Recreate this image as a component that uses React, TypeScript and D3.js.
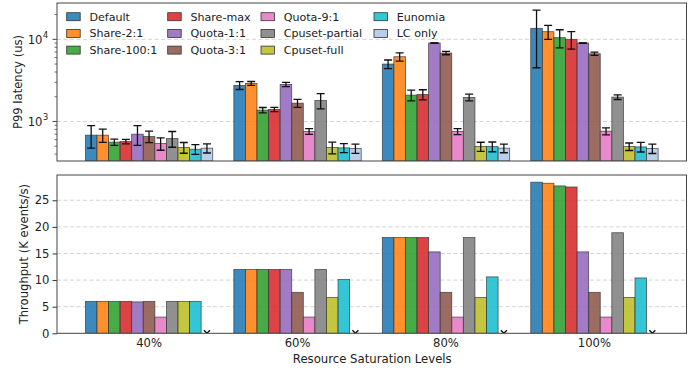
import React, { useEffect, useRef } from 'react'
import * as d3 from 'd3'

const levels = ['40%', '60%', '80%', '100%']
const series = ['Default', 'Share-2:1', 'Share-100:1', 'Share-max', 'Quota-1:1', 'Quota-3:1',
  'Quota-9:1', 'Cpuset-partial', 'Cpuset-full', 'Eunomia', 'LC only']
const colors = ['#1f77b4', '#ff7f0e', '#2ca02c', '#d62728', '#9467bd', '#8c564b',
  '#e377c2', '#7f7f7f', '#bcbd22', '#17becf', '#aec7e8']

// p99 latency (us), one row per series, one value per level
const latency = [
  [681, 2750, 5000, 13610],
  [681, 2905, 6140, 12390],
  [560, 1374, 2094, 10480],
  [570, 1400, 2133, 10000],
  [700, 2825, 9020, 9020],
  [656, 1671, 6810, 6670],
  [539, 756, 756, 762],
  [620, 1803, 1962, 1980],
  [482, 482, 495, 495],
  [459, 477, 495, 490],
  [473, 469, 473, 469],
]
const latencyErr = [
  [208, 300, 600, 9100],
  [125, 160, 710, 2400],
  [48, 105, 310, 2600],
  [36, 85, 300, 2400],
  [190, 175, 60, 60],
  [105, 185, 320, 300],
  [93, 60, 64, 75],
  [135, 380, 185, 130],
  [72, 78, 63, 52],
  [62, 60, 67, 65],
  [60, 60, 57, 62],
]
// throughput (K events/s); LC only has none
const throughput = [
  [6.0, 12.0, 18.0, 28.4],
  [6.0, 12.0, 18.0, 28.2],
  [6.0, 12.0, 18.0, 27.7],
  [6.0, 12.0, 18.0, 27.5],
  [5.9, 12.0, 15.3, 15.3],
  [6.0, 7.7, 7.7, 7.7],
  [3.05, 3.05, 3.05, 3.05],
  [6.0, 12.0, 18.0, 18.9],
  [6.0, 6.75, 6.75, 6.75],
  [6.0, 10.1, 10.6, 10.4],
  [null, null, null, null],
]
const latTicks = [1000, 10000]
const tpTicks = [0, 5, 10, 15, 20, 25]

const W = 696
const H = 370
const FONT = 'DejaVu Sans, sans-serif'

const App = () => {
  const svgRef = useRef<SVGSVGElement>(null)

  useEffect(() => {
    const svg = d3.select(svgRef.current)
    svg.selectAll('*').remove()

    const left = 57, right = 686.5
    const top1 = 3, bot1 = 161
    const top2 = 175, bot2 = 333.3
    const barW = 0.078

    const x = d3.scaleLinear().domain([-0.62, 3.62]).range([left, right])
    const yLat = d3.scaleLog().domain([330, 27700]).range([bot1, top1])
    const yTp = d3.scaleLinear().domain([0, 29.75]).range([bot2, top2])

    const barX = (g: number, s: number) => x(g + (s - 5.5) * barW)
    const bw = x(barW) - x(0)

    const defs = svg.append('defs')
    defs.append('clipPath').attr('id', 'clip1').append('rect')
      .attr('x', left).attr('y', top1).attr('width', right - left).attr('height', bot1 - top1)
    defs.append('clipPath').attr('id', 'clip2').append('rect')
      .attr('x', left).attr('y', top2).attr('width', right - left).attr('height', bot2 - top2)

    // ---- top panel: latency
    const p1 = svg.append('g')
    p1.selectAll('.grid').data(latTicks).join('line')
      .attr('x1', left).attr('x2', right)
      .attr('y1', d => yLat(d)).attr('y2', d => yLat(d))
      .attr('stroke', '#c8c8c8').attr('stroke-width', 0.8).attr('stroke-dasharray', '4,2.5')

    const bars1 = p1.append('g').attr('clip-path', 'url(#clip1)')
    series.forEach((name, s) => {
      const g = bars1.append('g')
      g.selectAll('rect').data(latency[s]).join('rect')
        .attr('x', (d, i) => barX(i, s))
        .attr('width', bw)
        .attr('y', d => yLat(d))
        .attr('height', d => bot1 - yLat(d))
        .attr('fill', colors[s]).attr('fill-opacity', 0.87)
        .attr('stroke', '#333').attr('stroke-opacity', 0.8).attr('stroke-width', 0.8)
    })
    series.forEach((name, s) => {
      const g = bars1.append('g')
      latency[s].forEach((v, i) => {
        const cx = barX(i, s) + bw / 2
        const e = latencyErr[s][i]
        const yHi = yLat(v + e), yLo = yLat(Math.max(v - e, 1))
        g.append('line').attr('x1', cx).attr('x2', cx).attr('y1', yHi).attr('y2', yLo)
          .attr('stroke', '#111').attr('stroke-width', 1.3)
        ;[yHi, yLo].forEach(yy => g.append('line')
          .attr('x1', cx - 4).attr('x2', cx + 4).attr('y1', yy).attr('y2', yy)
          .attr('stroke', '#111').attr('stroke-width', 1.3))
      })
    })

    // log axis ticks
    const minor: number[] = []
    ;[100, 1000, 10000].forEach(dec => {
      for (let k = 2; k <= 9; k++) {
        const v = dec * k
        if (v >= 330 && v <= 27700) minor.push(v)
      }
    })
    p1.selectAll('.minor').data(minor).join('line')
      .attr('x1', left - 2.5).attr('x2', left)
      .attr('y1', d => yLat(d)).attr('y2', d => yLat(d))
      .attr('stroke', '#333').attr('stroke-width', 0.7)
    p1.selectAll('.major').data(latTicks).join('line')
      .attr('x1', left - 4.5).attr('x2', left)
      .attr('y1', d => yLat(d)).attr('y2', d => yLat(d))
      .attr('stroke', '#333').attr('stroke-width', 0.9)
    latTicks.forEach(t => {
      p1.append('text')
        .attr('x', 42.5).attr('y', yLat(t) + 4.5)
        .attr('text-anchor', 'end')
        .attr('font-family', FONT).attr('font-size', 11.6).attr('fill', '#222')
        .text('10')
      p1.append('text')
        .attr('x', 43).attr('y', yLat(t) - 1.5)
        .attr('font-family', FONT).attr('font-size', 8.2).attr('fill', '#222')
        .text(String(Math.round(Math.log10(t))))
    })
    p1.append('rect').attr('x', left).attr('y', top1)
      .attr('width', right - left).attr('height', bot1 - top1)
      .attr('fill', 'none').attr('stroke', '#444').attr('stroke-width', 1)
    p1.append('text')
      .attr('transform', `translate(21.5,${(top1 + bot1) / 2}) rotate(-90)`)
      .attr('text-anchor', 'middle')
      .attr('font-family', FONT).attr('font-size', 11.6).attr('fill', '#222')
      .text('P99 latency (us)')

    // legend (no frame)
    const lg = svg.append('g')
    const colX = [66.7, 167.7, 261, 374]
    series.forEach((name, s) => {
      const c = Math.floor(s / 3), r = s % 3
      const cy = 16.7 + r * 16.7
      lg.append('rect').attr('x', colX[c]).attr('y', cy - 4)
        .attr('width', 13.5).attr('height', 8)
        .attr('fill', colors[s]).attr('fill-opacity', 0.87)
        .attr('stroke', '#333').attr('stroke-width', 0.8)
      lg.append('text').attr('x', colX[c] + 22.7).attr('y', cy + 4)
        .attr('font-family', FONT).attr('font-size', 11.1).attr('fill', '#222')
        .text(name)
    })

    // ---- bottom panel: throughput
    const p2 = svg.append('g')
    p2.selectAll('.grid').data(tpTicks.filter(t => t > 0)).join('line')
      .attr('x1', left).attr('x2', right)
      .attr('y1', d => yTp(d)).attr('y2', d => yTp(d))
      .attr('stroke', '#c8c8c8').attr('stroke-width', 0.8).attr('stroke-dasharray', '4,2.5')
    const bars2 = p2.append('g').attr('clip-path', 'url(#clip2)')
    series.forEach((name, s) => {
      throughput[s].forEach((v, i) => {
        if (v === null) {
          const cx = barX(i, s) + bw / 2, cy = yTp(0)
          bars2.append('path')
            .attr('d', `M${cx - 3},${cy - 3}L${cx + 3},${cy + 3}M${cx - 3},${cy + 3}L${cx + 3},${cy - 3}`)
            .attr('stroke', '#111').attr('stroke-width', 1.4)
          return
        }
        bars2.append('rect')
          .attr('x', barX(i, s)).attr('width', bw)
          .attr('y', yTp(v)).attr('height', bot2 - yTp(v))
          .attr('fill', colors[s]).attr('fill-opacity', 0.87)
          .attr('stroke', '#333').attr('stroke-opacity', 0.8).attr('stroke-width', 0.8)
      })
    })
    const yAxis = d3.axisLeft(yTp).tickValues(tpTicks).tickSize(4.5).tickPadding(3)
    const ga = p2.append('g').attr('transform', `translate(${left},0)`).call(yAxis)
    ga.select('.domain').remove()
    ga.selectAll('line').attr('stroke', '#333')
    ga.selectAll('text').attr('font-family', FONT).attr('font-size', 11.6).attr('fill', '#222')
    p2.append('rect').attr('x', left).attr('y', top2)
      .attr('width', right - left).attr('height', bot2 - top2)
      .attr('fill', 'none').attr('stroke', '#444').attr('stroke-width', 1)
    p2.selectAll('.xl').data(levels).join('text')
      .attr('x', (d, i) => x(i)).attr('y', 346.5)
      .attr('text-anchor', 'middle')
      .attr('font-family', FONT).attr('font-size', 11.6).attr('fill', '#222')
      .text(d => d)
    p2.append('text')
      .attr('x', (left + right) / 2 + 0.5).attr('y', 362.5)
      .attr('text-anchor', 'middle')
      .attr('font-family', FONT).attr('font-size', 11.7).attr('fill', '#222')
      .text('Resource Saturation Levels')
    p2.append('text')
      .attr('transform', `translate(27.5,${(top2 + bot2) / 2}) rotate(-90)`)
      .attr('text-anchor', 'middle')
      .attr('font-family', FONT).attr('font-size', 11.6).attr('fill', '#222')
      .text('Throughput (K events/s)')
  }, [])

  return (
    <svg ref={svgRef} width={W} height={H}
      style={{ position: 'absolute', left: 0, top: 0, background: '#fff' }} />
  )
}

export default App
